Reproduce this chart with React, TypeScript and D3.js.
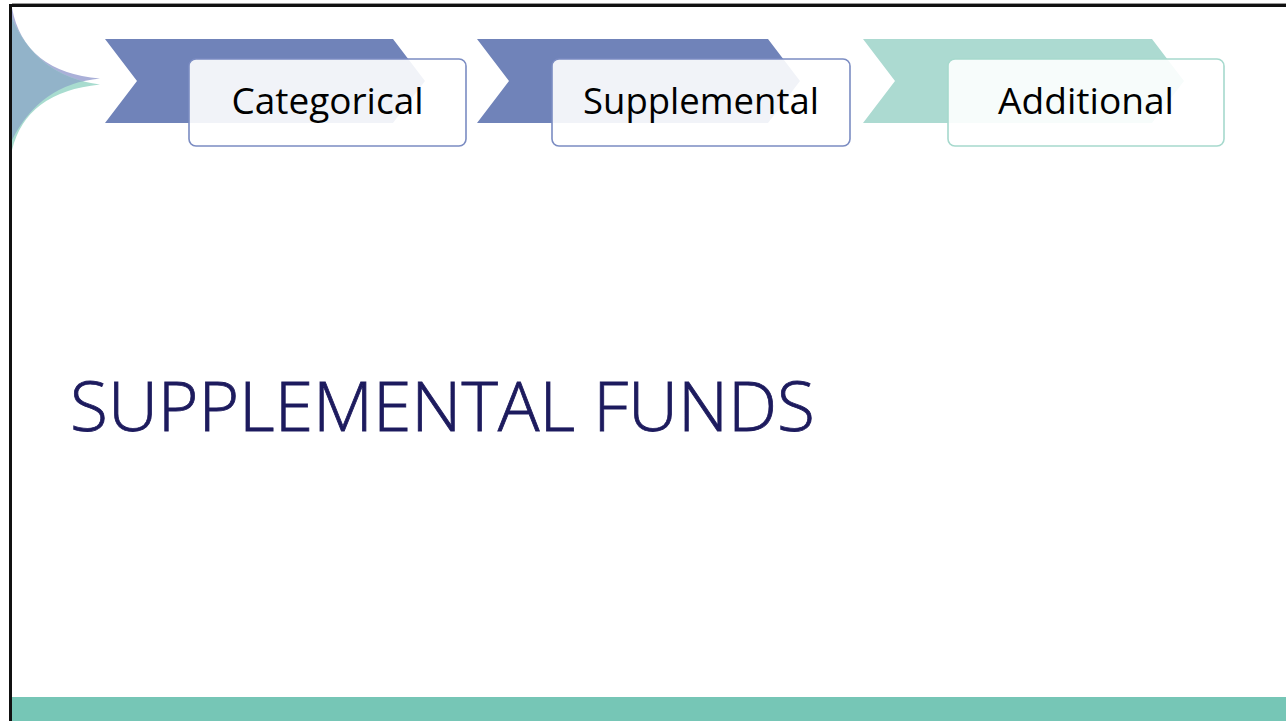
import React from "react";
import * as d3 from "d3";

// Stage labels shown in the process chevrons
const stageLabels: string[] = ["Categorical", "Supplemental", "Additional"];
// Stage colours (chevron fill, box stroke)
const stageFills: string[] = ["#7083b9", "#7083b9", "#acdad1"];
const stageStrokes: string[] = ["#7b8cc2", "#7b8cc2", "#a6d9cd"];
const titleText = "SUPPLEMENTAL FUNDS";

// layout (not data)
const chevronLeft = [105, 477, 863];
const chevronTopRight = [393, 768, 1152];
const boxLeft = [189, 552, 948];
const boxRight = [466, 850, 1224];
const labelWidths = [192, 236, 176];

export default function App() {
  const W = 1286;
  const H = 721;
  const top = 39;
  const bottom = 123;
  const mid = (top + bottom) / 2;
  const depth = 32;
  const line = d3.line<[number, number]>();

  const chevron = (i: number) => {
    const l = chevronLeft[i];
    const r = chevronTopRight[i];
    return (
      line([
        [l, top],
        [r, top],
        [r + depth, mid],
        [r, bottom],
        [l, bottom],
        [l + depth, mid],
      ]) + "Z"
    );
  };

  const lavPath = "M12,8 Q24,72 100,78.5 Q40,84 12,140 Z";
  const tealPath = "M12,18 Q36,76 100,84.5 Q26,92 12,150 Z";

  return (
    <svg
      width={W}
      height={H}
      style={{ position: "fixed", left: 0, top: 0, display: "block" }}
      viewBox={`0 0 ${W} ${H}`}
    >
      <defs>
        <clipPath id="lavClip">
          <path d={lavPath} />
        </clipPath>
      </defs>
      <rect x={0} y={0} width={W} height={H} fill="#ffffff" />
      {/* slide frame */}
      <rect x={10} y={4} width={W} height={3} fill="#111" />
      <rect x={9} y={4} width={3} height={H} fill="#111" />
      <rect x={12} y={3} width={W} height={1} fill="#9a9a9a" />
      {/* bottom band */}
      <rect x={12} y={697} width={W - 12} height={24} fill="#76c6b6" />

      {/* corner ornament */}
      <path d={lavPath} fill="#aab0d8" />
      <path d={tealPath} fill="#a8dccf" />
      <path d={tealPath} fill="#92b3c9" clipPath="url(#lavClip)" />

      {/* chevrons & boxes */}
      {stageLabels.map((lab, i) => (
        <g key={lab}>
          <path d={chevron(i)} fill={stageFills[i]} />
          <rect
            x={boxLeft[i]}
            y={59}
            width={boxRight[i] - boxLeft[i]}
            height={87}
            rx={7}
            ry={7}
            fill="#ffffff"
            fillOpacity={0.9}
            stroke={stageStrokes[i]}
            strokeWidth={1.6}
          />
          <text
            x={(boxLeft[i] + boxRight[i]) / 2}
            y={114}
            textAnchor="middle"
            fontFamily="'Open Sans', sans-serif"
            fontSize={36}
            fill="#000"
            textLength={labelWidths[i]}
            lengthAdjust="spacingAndGlyphs"
          >
            {lab}
          </text>
        </g>
      ))}

      {/* title */}
      <text
        x={70}
        y={431}
        fontFamily="'Open Sans', sans-serif"
        fontWeight={300}
        fontSize={69}
        fill="#1d1b5e"
        stroke="#1d1b5e"
        strokeWidth={0.8}
        textLength={745}
        lengthAdjust="spacingAndGlyphs"
      >
        {titleText}
      </text>
    </svg>
  );
}
